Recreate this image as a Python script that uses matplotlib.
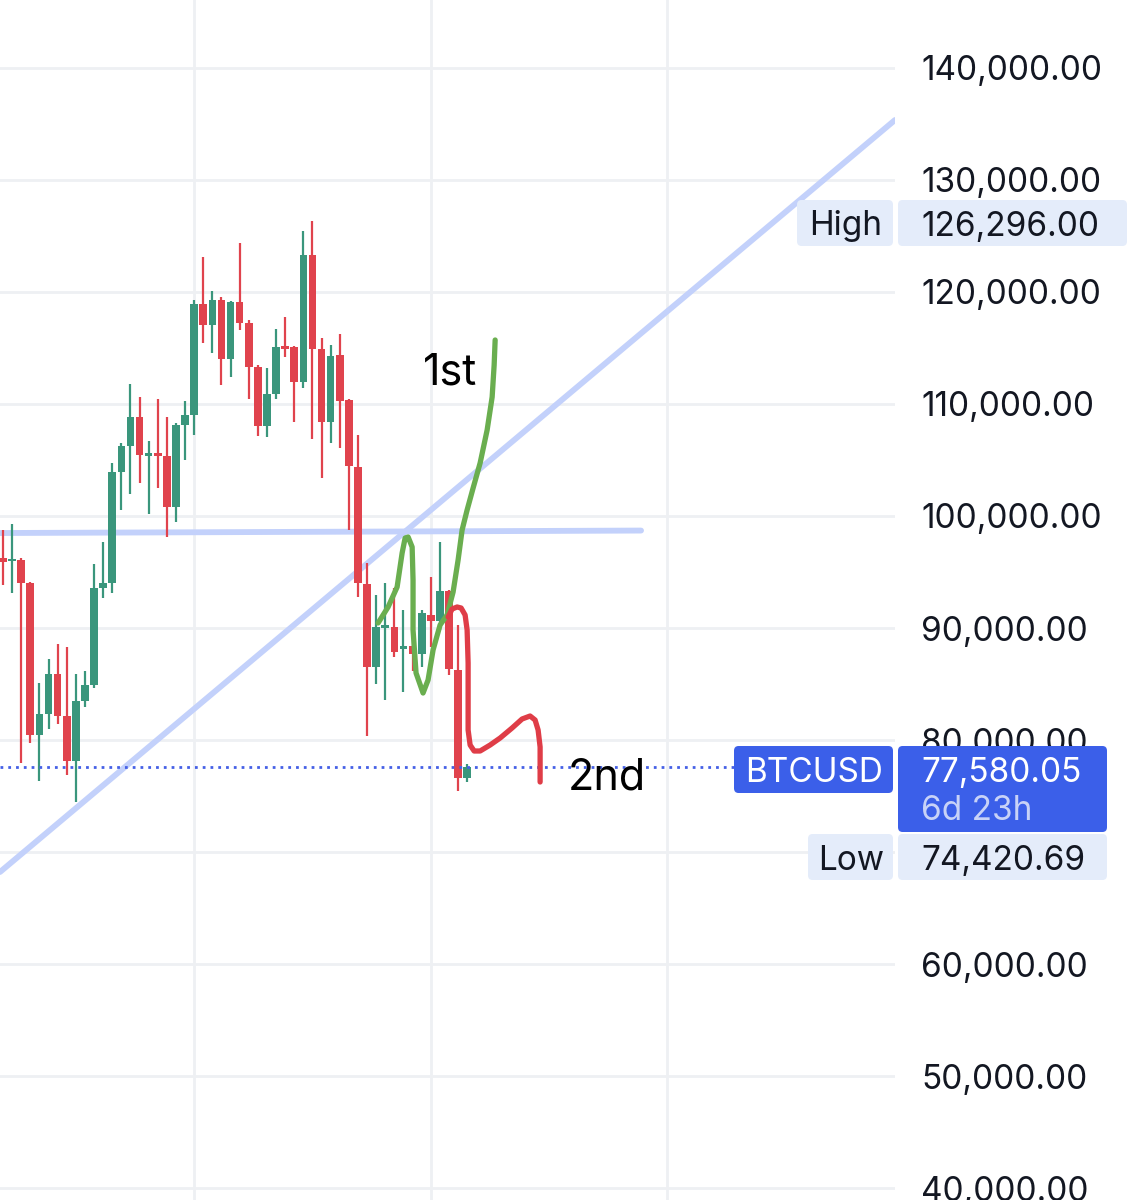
import matplotlib
matplotlib.use("Agg")
import matplotlib.pyplot as plt
from matplotlib.patches import FancyBboxPatch
import numpy as np

# ---------------- data ----------------
opens  = [96250, 95950, 96070, 94020, 80450, 82320, 85890, 82140, 78130, 83480,
          84910, 93570, 94020, 103930, 106250, 108840, 105400, 105550, 105400, 100800,
          108130, 109020, 118930, 117050, 119290, 114020, 119110, 117230, 113300, 108040,
          110890, 115090, 115090, 111960, 123300, 114910, 108390, 114380, 110360, 104380,
          93930, 86520, 90000, 90090, 88150, 88390, 87680, 91160, 90630, 93300,
          86250, 76610]
highs  = [98750, 99290, 96250, 94100, 85090, 87230, 88570, 88300, 85890, 86160,
          95710, 97680, 104730, 106520, 111790, 110630, 106700, 110450, 108840, 108300,
          110270, 119290, 123130, 120090, 119550, 119200, 124380, 117500, 113500, 113210,
          116700, 117770, 115180, 125450, 126296, 115890, 115270, 116250, 110450, 107230,
          95800, 92950, 94020, 93570, 91610, 90270, 91610, 94550, 97680, 93400,
          90270, 77860]
lows   = [93840, 93130, 77950, 79730, 76340, 80980, 81430, 76880, 74420.69, 82950,
          84600, 92680, 93130, 100540, 101960, 102950, 100180, 102500, 98130, 99460,
          105000, 107230, 115450, 114550, 111700, 112410, 116610, 110450, 107140, 107050,
          110450, 114200, 108390, 111430, 106880, 103390, 106520, 106070, 98750, 92770,
          80360, 85000, 83570, 87410, 84290, 86160, 86520, 88300, 89820, 85800,
          75450, 76250]
closes = [95893, 96070, 94020, 80450, 82320, 85890, 82140, 78130, 83480, 84910,
          93570, 94020, 103930, 106250, 108840, 105450, 105550, 105400, 100800, 108130,
          109020, 118930, 117050, 119290, 114020, 119110, 117230, 113300, 108040, 110890,
          115090, 114930, 111960, 123300, 114910, 108390, 114290, 110270, 104460, 94020,
          86520, 90090, 90180, 87860, 88350, 87680, 91340, 90630, 93300, 86340,
          76610, 77580.05]

price_ticks = [40000, 50000, 60000, 70000, 80000, 90000, 100000, 110000, 120000, 130000, 140000]
hidden_ticks = [70000]          # covered by the Low label in the original
period_marks = [21, 47, 73]

high_value = 126296.00
low_value = 74420.69
last_value = 77580.05
countdown = "6d 23h"
symbol = "BTCUSD"

# drawn trend lines (candle index, price)
diag_x = [-0.33, 98.0]
diag_p = [68214, 135357]
hline_x = [-0.33, 70.1]
hline_p = [98480, 98700]

# hand-drawn scenario paths (candle index, price)
green_x = [41.21, 42.31, 43.30, 43.85, 44.18, 44.51, 44.95, 45.05, 45.05, 45.38,
           46.15, 46.70, 47.25, 48.02, 48.79, 49.45, 50.00, 50.44, 50.99, 51.65,
           52.42, 53.19, 53.74, 53.96, 54.07]
green_p = [90446, 91875, 93661, 96696, 98036, 98125, 97232, 94286, 89821, 85982,
           84196, 85357, 88036, 90268, 91161, 93214, 96071, 98750, 100536, 102500,
           104732, 107679, 110625, 113482, 115714]
red_x = [48.90, 49.34, 49.89, 50.33, 50.77, 50.99, 51.10, 51.10, 51.10, 51.32,
         51.76, 52.42, 53.52, 54.62, 55.93, 57.03, 57.91, 58.46, 58.79, 59.01,
         59.01, 59.01]
red_p = [90982, 91696, 91875, 91786, 91161, 89821, 86875, 83571, 80893, 79554,
         79018, 79018, 79554, 80179, 81071, 81875, 82143, 81786, 80893, 79375,
         77768, 76250]

# ---------------- style ----------------
UP = "#3a967c"
DOWN = "#e0434d"
GRID = "#eef0f3"
TREND = "#c3d1fb"
BLUE = "#3b5fe9"
LIGHT = "#e4ecfa"
TXT = "#131722"
FONT = "Inter"
FS = 24

W, H = 1139, 1200
fig = plt.figure(figsize=(W / 100, H / 100), dpi=100)
fig.patch.set_facecolor("white")
ax = fig.add_axes([0, 0, 895 / W, 1])
ax.set_facecolor("white")
for s in ax.spines.values():
    s.set_visible(False)

ax.set_xlim(-0.33, 98.0)
ax.set_ylim(38929, 146071)

# grid + price scale
ax.set_xticks(period_marks)
ax.set_xticklabels([])
ax.set_yticks(price_ticks)
ax.set_yticklabels(["" if v in hidden_ticks else f"{v:,.2f}" for v in price_ticks])
ax.yaxis.tick_right()
ax.tick_params(axis="y", length=0, pad=19, labelsize=FS, labelcolor=TXT)
ax.tick_params(axis="x", length=0)
for lbl in ax.get_yticklabels():
    lbl.set_fontfamily(FONT)
    lbl.set_horizontalalignment("left")
ax.grid(True, color=GRID, linewidth=2.0, zorder=0)
ax.set_axisbelow(True)

# trend lines
ax.plot(diag_x, diag_p, color=TREND, linewidth=4.2, solid_capstyle="round", zorder=2)
ax.plot(hline_x, hline_p, color=TREND, linewidth=4.2, solid_capstyle="round", zorder=2)

# candles
idx = np.arange(len(opens))
o = np.array(opens, float); c = np.array(closes, float)
hi = np.array(highs, float); lo = np.array(lows, float)
cols = [UP if cc >= oo else DOWN for oo, cc in zip(o, c)]
ax.vlines(idx, lo, hi, colors=cols, linewidth=1.6, zorder=3)
bottoms = np.minimum(o, c)
heights = np.maximum(np.abs(c - o), 250)
ax.bar(idx, heights, bottom=bottoms, width=0.84, color=cols, zorder=4, linewidth=0)

# last price dotted line
ax.plot([-0.33, (734 - 3) / 9.1], [last_value, last_value], color="#4560e6",
        linewidth=2.0, linestyle=(0, (1, 1.8)), zorder=5)

# hand-drawn paths
ax.plot(green_x, green_p, color="#6aae4f", linewidth=3.8, solid_capstyle="round",
        solid_joinstyle="round", zorder=6)
ax.plot(red_x, red_p, color="#df3d47", linewidth=3.8, solid_capstyle="round",
        solid_joinstyle="round", zorder=6)

ax.text(46.15, 111700, "1st", fontsize=31, family=FONT, color="black",
        ha="left", va="baseline", zorder=7)
ax.text(62.09, 75550, "2nd", fontsize=31, family=FONT, color="black",
        ha="left", va="baseline", zorder=7)

# ---------------- right-side labels (pixel-placed boxes) ----------------
def fx(px):
    return px / W

def fy(py):
    return 1 - py / H

def box(x0, y0, x1, y1, color):
    p = FancyBboxPatch((fx(x0), fy(y1)), fx(x1) - fx(x0), fy(y0) - fy(y1),
                       boxstyle="round,pad=0,rounding_size=0.004",
                       transform=fig.transFigure, facecolor=color,
                       edgecolor="none", zorder=5)
    fig.add_artist(p)

# High
box(797, 200, 893, 246, LIGHT)
box(898, 200, 1127, 246, LIGHT)
fig.text(fx(846), fy(223), "High", fontsize=FS, family=FONT, color=TXT,
         ha="center", va="center_baseline", zorder=6)
fig.text(fx(921), fy(223), f"{high_value:,.2f}", fontsize=FS, family=FONT,
         color=TXT, ha="left", va="center_baseline", zorder=6)

# BTCUSD
box(734, 746, 893, 793, BLUE)
box(898, 746, 1107, 832, BLUE)
fig.text(fx(814), fy(770), symbol, fontsize=FS, family=FONT, color="white",
         ha="center", va="center_baseline", zorder=6)
fig.text(fx(921), fy(770), f"{last_value:,.2f}", fontsize=FS, family=FONT,
         color="white", ha="left", va="center_baseline", zorder=6)
fig.text(fx(921), fy(807), countdown, fontsize=FS, family=FONT, color="#c8d2f7",
         ha="left", va="center_baseline", zorder=6)

# Low
box(808, 834, 893, 880, LIGHT)
box(898, 834, 1107, 880, LIGHT)
fig.text(fx(851), fy(857), "Low", fontsize=FS, family=FONT, color=TXT,
         ha="center", va="center_baseline", zorder=6)
fig.text(fx(921), fy(857), f"{low_value:,.2f}", fontsize=FS, family=FONT,
         color=TXT, ha="left", va="center_baseline", zorder=6)

fig.savefig("out.png", dpi=100, facecolor="white")
